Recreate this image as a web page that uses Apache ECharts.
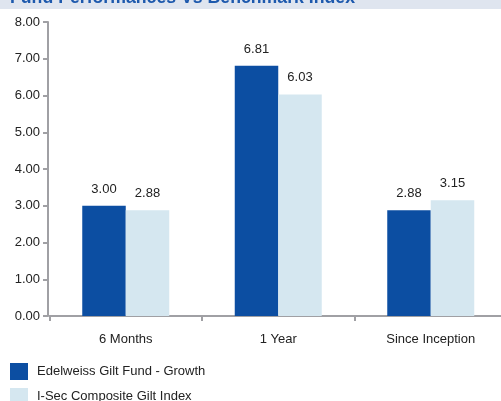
<!DOCTYPE html>
<html><head><meta charset="utf-8">
<script src="https://cdn.jsdelivr.net/npm/echarts@6/dist/echarts.min.js"></script>
<style>html,body{margin:0;padding:0;background:#fff}#c{width:501px;height:401px}</style>
</head><body><div id="c"></div>
<script>
const categories = ['6 Months', '1 Year', 'Since Inception'];
const fundValues = [3.00, 6.81, 2.88];
const indexValues = [2.88, 6.03, 3.15];
const seriesNames = ['Edelweiss Gilt Fund - Growth', 'I-Sec Composite Gilt Index'];
const titleText = 'Fund Performances Vs Benchmark Index';

const chart = echarts.init(document.getElementById('c'));
const font = 'Liberation Sans, Arial, sans-serif';
const axisCol = '#a0a0a4';
const legendCommon = {
  orient: 'vertical', left: 10, itemWidth: 18, itemHeight: 17, itemGap: 8,
  icon: 'rect', textStyle: {fontSize: 13, color: '#222', fontFamily: font, padding: [2, 0, 0, 4]}, padding: 0
};
chart.setOption({
  animation: false,
  textStyle: {fontFamily: font},
  graphic: [
    {type: 'rect', shape: {x: 0, y: 0, width: 501, height: 9}, style: {fill: '#dfe5ef'}},
    {type: 'text', x: 10, y: -11, style: {text: titleText, fontSize: 17.7, fontWeight: 'bold', fill: '#1d59ad', fontFamily: font}}
  ],
  grid: {left: 49.5, width: 457.5, top: 22, height: 294, containLabel: false, outerBoundsMode: 'none'},
  legend: [
    Object.assign({top: 363, data: [seriesNames[0]]}, legendCommon),
    Object.assign({top: 388, data: [seriesNames[1]]}, legendCommon)
  ],
  xAxis: {
    type: 'category', data: categories,
    axisLine: {lineStyle: {color: axisCol, width: 2}},
    axisTick: {show: true, length: 5, lineStyle: {color: axisCol, width: 2}},
    axisLabel: {fontSize: 13, color: '#222', margin: 17}
  },
  yAxis: {
    type: 'value', min: 0, max: 8, interval: 1, offset: 1.5,
    axisLine: {show: true, lineStyle: {color: axisCol, width: 2}},
    axisTick: {show: true, length: 5, lineStyle: {color: axisCol, width: 2}},
    splitLine: {show: false},
    axisLabel: {fontSize: 13, color: '#222', margin: 8, formatter: v => v.toFixed(2)}
  },
  series: [
    {name: seriesNames[0], type: 'bar', data: fundValues, barWidth: 43.5, barGap: '0%',
     itemStyle: {color: '#0c4ea2'},
     label: {show: true, position: 'top', distance: 10, fontSize: 13, color: '#222', formatter: p => p.value.toFixed(2)}},
    {name: seriesNames[1], type: 'bar', data: indexValues, barWidth: 43.5, barGap: '0%',
     itemStyle: {color: '#d5e7f0'},
     label: {show: true, position: 'top', distance: 10, fontSize: 13, color: '#222', formatter: p => p.value.toFixed(2)}}
  ]
});
</script></body></html>
